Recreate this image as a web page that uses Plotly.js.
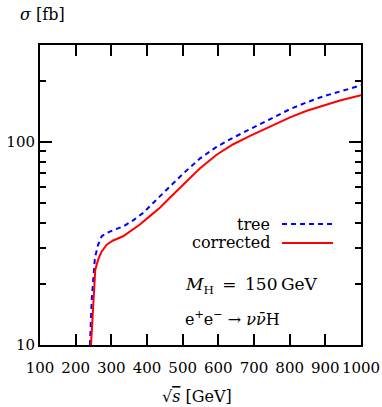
<!DOCTYPE html>
<html>
<head>
<meta charset="utf-8">
<script src="https://cdn.plot.ly/plotly-3.0.1.min.js"></script>
<style>html,body{margin:0;padding:0;background:#fff;}#chart{width:382px;height:407px;}</style>
</head>
<body>
<div id="chart"></div>
<script>
// sqrt(s) [GeV] and sigma [fb]
const treeX = [240, 245, 254, 263, 273, 287, 310, 334, 362, 390, 418, 446, 474, 502, 549, 595, 642, 689, 754, 801, 848, 894, 941, 1000];
const treeY = [10, 16.7, 26.9, 31.2, 34.3, 35.6, 37.0, 38.4, 41.2, 44.8, 50.2, 56.2, 63, 70, 83, 94.5, 105, 115.6, 132, 145, 156.6, 167.5, 177, 190];
const corrX = [243, 249, 255, 263, 273, 287, 305, 333, 352, 380, 408, 436, 464, 492, 548, 595, 642, 689, 754, 801, 848, 894, 941, 1000];
const corrY = [10, 16.7, 23.5, 26.3, 28.9, 31.2, 32.7, 34.3, 36.1, 39.2, 43.1, 47.4, 53.1, 59.5, 74, 86.5, 97.4, 107, 121.5, 132, 142.3, 151, 160, 170];

const xTicks = [100, 200, 300, 400, 500, 600, 700, 800, 900, 1000];
const yTicks = [10, 100];
const yMinor = [20, 30, 40, 50, 60, 70, 80, 90, 200, 300];
const seriesNames = ["tree", "corrected"];

const FONT = "DejaVu Serif";

const traces = [
  {x: treeX, y: treeY, type: "scatter", mode: "lines", name: seriesNames[0],
   line: {color: "#0000ff", width: 2, dash: "5px,4px"}, showlegend: false},
  {x: corrX, y: corrY, type: "scatter", mode: "lines", name: seriesNames[1],
   line: {color: "#ff0000", width: 2}, showlegend: false}
];

const tf = {family: FONT, size: 16, color: "#000"};
const tf17 = {family: FONT, size: 17, color: "#000"};

const layout = {
  width: 382, height: 407,
  margin: {l: 40, r: 21, t: 45, b: 62},
  paper_bgcolor: "#fff", plot_bgcolor: "#fff",
  font: {family: FONT, size: 15, color: "#000"},
  xaxis: {
    range: [100, 1000], tickvals: xTicks, ticktext: xTicks.map(String),
    ticks: "inside", ticklen: 11, tickwidth: 2, tickcolor: "#000",
    showline: true, linewidth: 2, linecolor: "#000", mirror: "ticks",
    showgrid: false, zeroline: false, ticklabelstandoff: 8,
    tickfont: {family: FONT, size: 15, color: "#000"}
  },
  yaxis: {
    type: "log", range: [1, Math.log10(300)], tickvals: yTicks, ticktext: yTicks.map(String),
    ticks: "inside", ticklen: 12, tickwidth: 2, tickcolor: "#000",
    minor: {tickvals: yMinor, ticks: "inside", ticklen: 6, tickwidth: 2, tickcolor: "#000", showgrid: false},
    showline: true, linewidth: 2, linecolor: "#000", mirror: "ticks",
    showgrid: false, zeroline: false,
    tickfont: {family: FONT, size: 15, color: "#000"}
  },
  shapes: [
    {type: "line", xref: "paper", yref: "paper", x0: 0.754, x1: 0.913, y0: 0.403, y1: 0.403,
     line: {color: "#0000ff", width: 2, dash: "5px,4px"}},
    {type: "line", xref: "paper", yref: "paper", x0: 0.754, x1: 0.913, y0: 0.34, y1: 0.34,
     line: {color: "#ff0000", width: 2}}
  ],
  annotations: [
    {text: seriesNames[0], xref: "paper", yref: "paper", x: 0.7227, y: 0.403, xanchor: "right", yanchor: "middle", showarrow: false, font: tf},
    {text: seriesNames[1], xref: "paper", yref: "paper", x: 0.7227, y: 0.34, xanchor: "right", yanchor: "middle", showarrow: false, font: tf},
    {text: "<i>M</i><sub>H</sub>\u2002=\u2002150\u2009GeV", xref: "paper", yref: "paper", x: 0.4455, y: 0.2, xanchor: "left", yanchor: "middle", showarrow: false, font: tf17},
    {text: "e<sup>+</sup>e<sup>\u2212</sup> \u2192 <i>\u03bd\u03bd\u0304</i>H", xref: "paper", yref: "paper", x: 0.4455, y: 0.09, xanchor: "left", yanchor: "middle", showarrow: false, font: tf},
    {text: "<i>\u03c3</i> [fb]", xref: "paper", yref: "paper", x: -0.0685, y: 1.1, xanchor: "left", yanchor: "middle", showarrow: false, font: tf},
    {text: "\u221a<span style=\"text-decoration:overline\"><i>s</i></span> [GeV]", xref: "paper", yref: "paper", x: 0.374, y: -0.17, xanchor: "left", yanchor: "middle", showarrow: false, font: tf}
  ]
};

Plotly.newPlot("chart", traces, layout, {staticPlot: true, displayModeBar: false});
</script>
</body>
</html>
